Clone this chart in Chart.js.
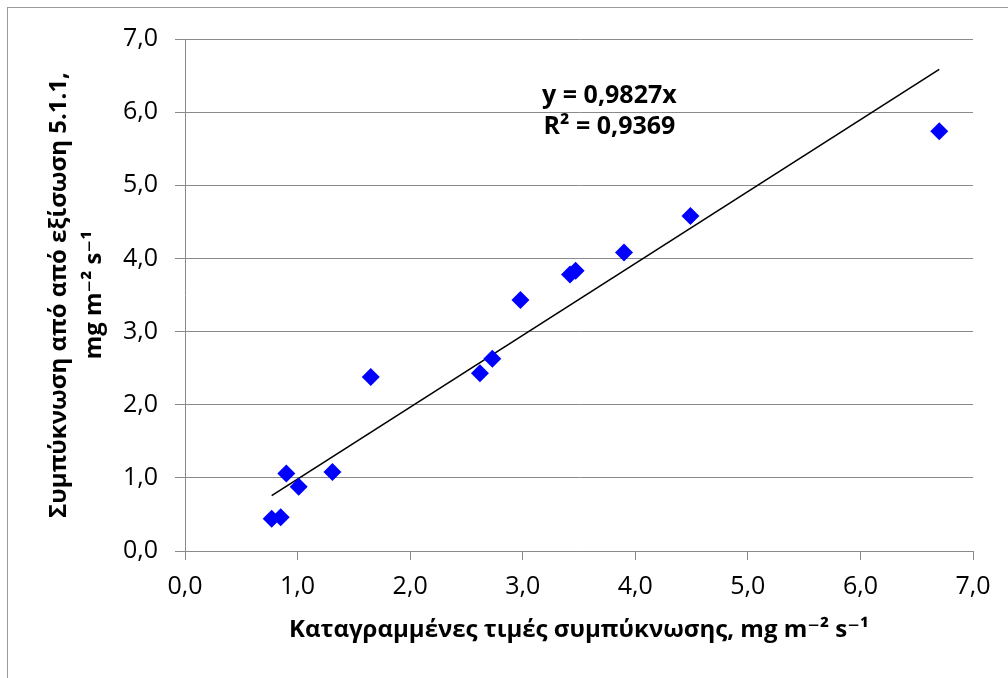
<!DOCTYPE html>
<html>
<head>
<meta charset="utf-8">
<script src="https://cdn.jsdelivr.net/npm/chart.js@4/dist/chart.umd.min.js"></script>
<style>
  html, body { margin: 0; padding: 0; background: #fff; }
  #wrap { position: relative; width: 1008px; height: 678px; }
  #frame { position: absolute; left: 7px; top: 7px; right: 0; bottom: 0;
           border-left: 1px solid #9a9a9a; border-top: 1px solid #9a9a9a; }
  canvas { position: absolute; left: 0; top: 0; }
</style>
</head>
<body>
<div id="wrap">
  <div id="frame"></div>
  <canvas id="c" width="1008" height="678"></canvas>
</div>
<script>
// Recorded vs. computed condensation rate (mg m-2 s-1)
const measured = [0.77, 0.85, 0.90, 1.01, 1.31, 1.65, 2.62, 2.73, 2.98, 3.42, 3.47, 3.90, 4.49, 6.70];
const computed = [0.44, 0.46, 1.06, 0.88, 1.08, 2.38, 2.43, 2.63, 3.43, 3.78, 3.83, 4.08, 4.58, 5.74];

// Linear fit through the origin
const slope = 0.9827;
const rSquared = 0.9369;
const fitLabels = ['y = 0,9827x', 'R² = 0,9369'];

const xTitle = 'Καταγραμμένες τιμές συμπύκνωσης, mg m⁻² s⁻¹';
const yTitle = ['Συμπύκνωση από από εξίσωση 5.1.1,', 'mg m⁻² s⁻¹'];

const xMin = Math.min(...measured), xMax = Math.max(...measured);
const points = measured.map((x, i) => ({ x: x, y: computed[i] }));
const fitLine = [{ x: xMin, y: slope * xMin }, { x: xMax, y: slope * xMax }];

const fmt = v => v.toFixed(1).replace('.', ',');
const FONT = "'Open Sans', 'DejaVu Sans', sans-serif";
const GRID = '#8a8a8a';

// Equation text placed in data space above the fit line
const fitLabelPlugin = {
  id: 'fitLabel',
  afterDatasetsDraw(chart) {
    const { ctx, scales } = chart;
    const cx = scales.x.getPixelForValue(3.77);
    const y1 = scales.y.getPixelForValue(6.22);
    const y2 = scales.y.getPixelForValue(5.80);
    ctx.save();
    ctx.fillStyle = '#000';
    ctx.font = 'bold 25px ' + FONT;
    ctx.textAlign = 'center';
    ctx.textBaseline = 'middle';
    ctx.fillText(fitLabels[0], cx, y1);
    ctx.fillText(fitLabels[1], cx, y2);
    ctx.restore();
  }
};

new Chart(document.getElementById('c'), {
  type: 'scatter',
  data: {
    datasets: [
      {
        type: 'line',
        data: fitLine,
        borderColor: '#000',
        borderWidth: 1.6,
        pointRadius: 0,
        fill: false,
        order: 1
      },
      {
        data: points,
        pointStyle: 'rectRot',
        pointRadius: 9,
        pointHoverRadius: 9,
        backgroundColor: '#0000ff',
        borderColor: '#0000ff',
        borderWidth: 0,
        order: 0
      }
    ]
  },
  options: {
    responsive: false,
    animation: false,
    devicePixelRatio: 1,
    layout: { padding: { left: 0, top: 39, right: 35, bottom: 0 } },
    plugins: { legend: { display: false }, tooltip: { enabled: false } },
    scales: {
      x: {
        type: 'linear',
        min: 0, max: 7,
        afterFit(s) { s.height = 127; },
        ticks: {
          stepSize: 1,
          callback: fmt,
          color: '#000',
          padding: 12,
          font: { family: FONT, size: 25 }
        },
        grid: { drawOnChartArea: false, drawTicks: true, tickLength: 9, color: GRID, lineWidth: 1 },
        border: { display: true, color: GRID, width: 1 },
        title: {
          display: true,
          text: xTitle,
          color: '#000',
          font: { family: FONT, size: 24, weight: 'bold', lineHeight: 1.2 },
          padding: { top: 0, bottom: 33 }
        }
      },
      y: {
        type: 'linear',
        min: 0, max: 7,
        afterFit(s) { s.width = 185; },
        ticks: {
          stepSize: 1,
          callback: fmt,
          color: '#000',
          padding: 17,
          font: { family: FONT, size: 25 }
        },
        grid: { drawOnChartArea: true, drawTicks: true, tickLength: 10, color: GRID, lineWidth: 1 },
        border: { display: true, color: GRID, width: 1 },
        title: {
          display: true,
          text: yTitle,
          color: '#000',
          font: { family: FONT, size: 24, weight: 'bold', lineHeight: 1.45 },
          padding: { top: 42, bottom: 0 }
        }
      }
    }
  },
  plugins: [fitLabelPlugin]
});
</script>
</body>
</html>
